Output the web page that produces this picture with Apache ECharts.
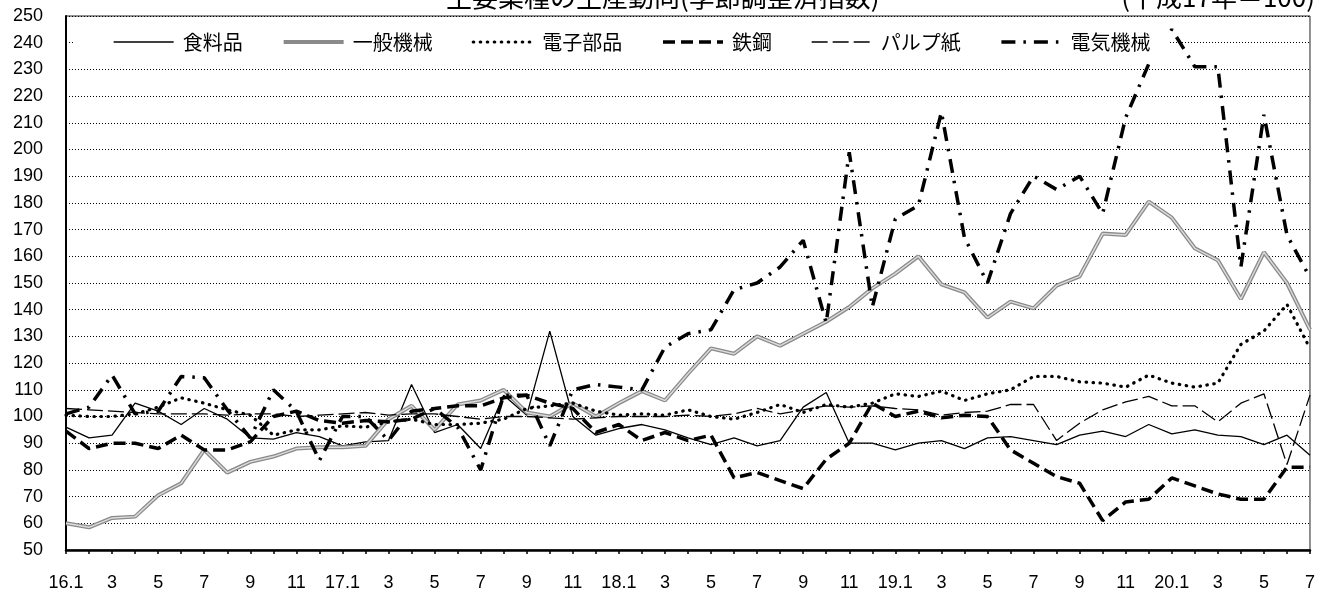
<!DOCTYPE html>
<html>
<head>
<meta charset="utf-8">
<script src="https://cdn.jsdelivr.net/npm/echarts@6/dist/echarts.min.js"></script>
<style>
html, body { margin: 0; padding: 0; background: #fff; }
#chart { width: 1318px; height: 592px; }
</style>
</head>
<body>
<div id="chart"></div>
<script>
// 月 (16.1 = 平成16年1月)
var categories = [
	'16.1','2','3','4','5','6','7','8','9','10','11','12',
	'17.1','2','3','4','5','6','7','8','9','10','11','12',
	'18.1','2','3','4','5','6','7','8','9','10','11','12',
	'19.1','2','3','4','5','6','7','8','9','10','11','12',
	'20.1','2','3','4','5','6','7'
];

var food = [96, 92, 93, 105, 102, 97, 103, 99, 92, 91.5, 94, 92.5,
	89, 90.5, 91, 112, 94, 97, 88, 108, 100.5, 132, 100, 93,
	95.5, 97, 95, 92, 89.5, 92, 89, 91, 103.5, 109, 90, 90,
	87.5, 90, 91, 88, 92, 92.5, 91, 89.5, 93, 94.5, 92.5, 97,
	93.5, 95, 93, 92.5, 89.5, 93, 85.5];

var machinery = [60, 58.5, 62, 62.5, 70.5, 75, 87.5, 79, 83, 85, 88, 88.5,
	88.5, 89, 99, 104, 95, 104.5, 106, 110, 101.5, 100, 105, 100,
	105, 109.5, 106, 116, 125.5, 123.5, 130, 126.5, 131, 135.5, 141, 148,
	153.5, 160, 149.5, 146.5, 137, 143, 140.5, 149, 152.5, 168.5, 168, 180.5,
	174.5, 163, 158.5, 144, 161.5, 150, 132.5];

var electronics = [100.5, 100, 100, 101, 103.5, 107, 105, 102.5, 100.5, 93, 95, 95,
	96.5, 96, 98, 99, 97, 97, 97.5, 99, 103, 104, 105, 102,
	100.5, 101, 100.5, 102.5, 100, 99, 101.5, 104.5, 101.5, 104.5, 103.5, 105,
	108.5, 107.5, 109.5, 106, 108.5, 110, 115, 115, 113, 112.5, 111, 115.5,
	112.5, 111, 112.5, 127, 132, 142, 125.5];

var steel = [94.5, 88, 90, 90, 88, 93, 87.5, 87.5, 90.5, 100, 102, 98.5,
	97.5, 98.5, 98, 99, 103, 104, 104, 107, 108, 105, 103, 94,
	97, 91, 94, 91, 93, 77, 79, 76, 73, 84, 90, 105,
	100, 102, 99.5, 100.5, 100, 87.5, 82.5, 77.5, 75, 61, 68, 69,
	77, 74, 71, 69, 69, 81, 81];

var pulp = [103, 102.5, 102, 101.5, 101, 101, 101, 100.5, 101, 101, 100, 100.5,
	101, 101.5, 100.5, 101, 101, 100, 99, 100, 100, 99.5, 99, 99.5,
	100, 100, 100, 100.5, 100, 101, 103, 101, 102.5, 104, 103.5, 104,
	103, 102.5, 100.5, 101.5, 102, 104.5, 104.5, 91, 97.5, 102.5, 105.5, 107.5,
	104, 104, 98, 105, 108.5, 82, 108];

var electrical = [101, 103.5, 115.5, 101, 102, 115, 114.5, 102.5, 92, 110, 102, 83.5,
	100, 100, 91, 102, 103, 96, 80, 108, 108, 89, 110, 112,
	111, 110, 126, 131, 132.5, 147.5, 150, 156, 166, 135, 199, 141,
	174, 179, 214, 167, 150, 176, 190, 185, 190, 176, 212, 232,
	245, 231, 231, 156, 213, 168, 152];

var numFont = 'Liberation Sans';
var jpFont = 'Noto Sans CJK JP';

// 線種 (系列と凡例で共用)
var lsFood = { color: '#000', width: 1.3, type: 'solid' };
var lsMach = { color: '#8a8a8a', width: 4, type: 'solid' };
var lsElec = { color: '#000', width: 3.2, type: [0.5, 6.5], cap: 'round' };
var lsSteel = { color: '#000', width: 3.5, type: [12, 6] };
var lsPulp = { color: '#000', width: 1.3, type: [16, 5] };
var lsElecM = { color: '#000', width: 3.5, type: [14, 8, 2.5, 8] };

function lineSeries(name, data, ls){
	return {
		name: name,
		type: 'line',
		data: data,
		symbol: 'circle',
		showSymbol: false,
		lineStyle: ls,
		itemStyle: { color: ls.color },
		silent: true
	};
}

var chart = echarts.init(document.getElementById('chart'));

var option = {
	animation: false,
	backgroundColor: '#fff',
	grid: {
		left: 66, right: 5, top: 16, bottom: 42,
		show: true, borderColor: '#222', borderWidth: 1
	},
	graphic: [
		{ type: 'text', x: 446, y: -3, style: { text: '主要業種の生産動向(季節調整済指数)', fontSize: 26, fontFamily: jpFont, fill: '#000', verticalAlign: 'middle' } },
		{ type: 'text', x: 1315, y: -3, style: { text: '(平成17年＝100)', fontSize: 26, fontFamily: jpFont, fill: '#000', align: 'right', verticalAlign: 'middle' } }
	],
	legend: {
		left: 75,
		top: 25,
		padding: [6, 18, 6, 38],
		backgroundColor: '#fff',
		itemGap: 39,
		itemWidth: 60,
		itemHeight: 4,
		itemStyle: { opacity: 0 },
		textStyle: { fontSize: 20, lineHeight: 22, fontFamily: jpFont, color: '#000', padding: [0, 0, 0, 4] },
		data: [
			{ name: '食料品', lineStyle: lsFood },
			{ name: '一般機械', lineStyle: lsMach },
			{ name: '電子部品', lineStyle: lsElec },
			{ name: '鉄鋼', lineStyle: lsSteel },
			{ name: 'パルプ紙', lineStyle: lsPulp },
			{ name: '電気機械', lineStyle: lsElecM }
		]
	},
	xAxis: {
		type: 'category',
		data: categories,
		boundaryGap: false,
		axisLine: { lineStyle: { color: '#000', width: 2.5 } },
		axisTick: { show: true, interval: 0, length: 4, lineStyle: { color: '#000', width: 1.5 } },
		axisLabel: { interval: 1, fontSize: 18, fontFamily: numFont, color: '#000', margin: 24 },
		splitLine: { show: false }
	},
	yAxis: {
		type: 'value',
		min: 50, max: 250, interval: 10,
		axisLine: { show: true, lineStyle: { color: '#000', width: 2 } },
		axisTick: { show: false },
		axisLabel: { fontSize: 18, fontFamily: numFont, color: '#000', margin: 23, padding: [5, 0, 0, 0] },
		splitLine: { show: true, lineStyle: { color: '#000', width: 1, type: [1, 2] } }
	},
	series: [
		lineSeries('食料品', food, lsFood),
		lineSeries('一般機械', machinery, lsMach),
		// 一般機械の二重線の内側
		{
			name: '一般機械内', type: 'line', data: machinery, symbol: 'none', silent: true,
			lineStyle: { color: '#dcdcdc', width: 1.4 }
		},
		lineSeries('電子部品', electronics, lsElec),
		lineSeries('鉄鋼', steel, lsSteel),
		lineSeries('パルプ紙', pulp, lsPulp),
		lineSeries('電気機械', electrical, lsElecM)
	]
};

chart.setOption(option);
</script>
</body>
</html>
